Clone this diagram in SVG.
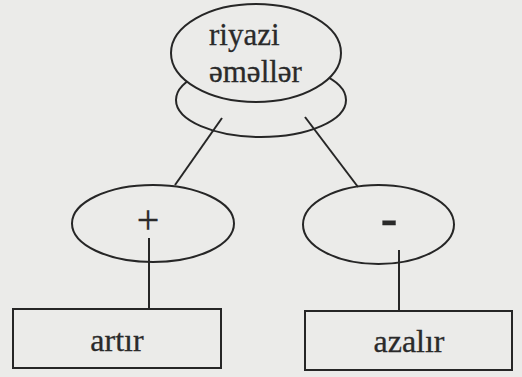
<svg xmlns="http://www.w3.org/2000/svg" width="522" height="377" viewBox="0 0 522 377">
<style>
.bg{fill:#ebebe9}
.shape{fill:#ebebe9;stroke:#262626;stroke-width:2}
.open{fill:none;stroke:#262626;stroke-width:2}
.conn{stroke:#262626;stroke-width:2;fill:none}
.lbl{font-family:"Liberation Serif","Times New Roman",serif;fill:#2a2a2a;stroke:#2a2a2a;stroke-width:0.3}
</style>
<rect class="bg" x="0" y="0" width="522" height="377"/>
<g id="root-base">
<ellipse class="shape" cx="261" cy="100" rx="85" ry="37"/>
</g>
<g id="connectors">
<line class="conn" x1="222" y1="118" x2="175" y2="185"/>
<line class="conn" x1="305" y1="117" x2="358" y2="187"/>
<line class="conn" x1="149" y1="238" x2="149" y2="309"/>
<line class="conn" x1="399" y1="250" x2="399" y2="311"/>
</g>
<g id="root">
<ellipse class="shape" cx="256" cy="53" rx="85" ry="49"/>
<text class="lbl" x="209" y="45" font-size="31">riyazi</text>
<text class="lbl" x="209" y="82" font-size="31">əməllər</text>
</g>
<g id="plus">
<ellipse class="open" cx="153" cy="223.5" rx="81" ry="38.5"/>
<text class="lbl" x="148" y="232.5" font-size="40" text-anchor="middle">+</text>
</g>
<g id="minus">
<ellipse class="open" cx="378.5" cy="224.5" rx="75.5" ry="39.5"/>
<text class="lbl" x="389" y="235" font-size="50" font-weight="bold" text-anchor="middle">-</text>
</g>
<g id="artir">
<rect class="shape" x="13" y="309" width="208" height="59"/>
<text class="lbl" x="117" y="351" font-size="32" text-anchor="middle">artır</text>
</g>
<g id="azalir">
<rect class="shape" x="305" y="311" width="207" height="59"/>
<text class="lbl" x="409" y="352" font-size="32" text-anchor="middle">azalır</text>
</g>
</svg>
